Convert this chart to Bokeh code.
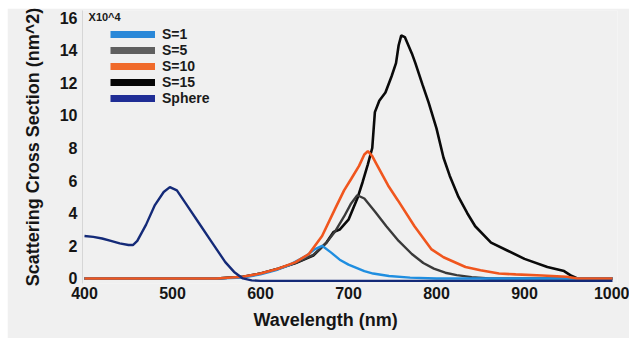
from bokeh.plotting import figure
from bokeh.models import Range1d, FixedTicker, Legend, LegendItem, Label, Title
from bokeh.embed import file_html
from bokeh.resources import INLINE

# ---- data ----
sphere_wl = [400, 410, 420, 430, 440, 450, 455, 460, 470, 480, 490, 497, 505, 515, 530, 545, 560, 570, 580, 590, 600, 650, 700, 800, 900, 1000]
sphere_val = [2.6, 2.55, 2.45, 2.3, 2.15, 2.05, 2.05, 2.3, 3.3, 4.5, 5.3, 5.6, 5.4, 4.6, 3.4, 2.2, 1.0, 0.4, 0.0, -0.12, -0.15, -0.15, -0.15, -0.15, -0.15, -0.15]

s1_wl = [400, 500, 550, 580, 600, 620, 632, 651, 662, 670, 680, 690, 700, 709, 718, 728, 746, 770, 800, 1000]
s1_val = [0, 0, 0, 0.05, 0.25, 0.55, 0.8, 1.35, 1.8, 2.0, 1.6, 1.15, 0.85, 0.65, 0.45, 0.3, 0.15, 0.05, 0, 0]

s5_wl = [400, 550, 580, 600, 620, 640, 660, 675, 685, 695, 703, 710, 718, 730, 743, 757, 772, 785, 797, 810, 823, 840, 860, 1000]
s5_val = [0, 0, 0.1, 0.3, 0.6, 0.95, 1.45, 2.2, 2.9, 3.8, 4.6, 5.1, 4.9, 4.1, 3.2, 2.3, 1.5, 0.95, 0.6, 0.35, 0.2, 0.08, 0, 0]

s10_wl = [400, 550, 580, 600, 620, 640, 655, 670, 685, 695, 703, 712, 718, 722, 727, 732, 745, 756, 775, 794, 808, 833, 850, 871, 890, 920, 948, 960, 1000]
s10_val = [0, 0, 0.1, 0.3, 0.6, 1.0, 1.5, 2.6, 4.3, 5.4, 6.1, 6.9, 7.6, 7.8, 7.5, 7.0, 5.7, 4.8, 3.2, 1.8, 1.3, 0.7, 0.5, 0.3, 0.25, 0.18, 0.1, 0, 0]

s15_wl = [400, 550, 580, 600, 620, 640, 660, 675, 683, 690, 700, 710, 716, 722, 727, 730, 735, 742, 749, 754, 757, 760, 764, 772, 776, 784, 791, 800, 808, 815, 825, 835, 844, 862, 881, 900, 926, 945, 952, 960, 1000]
s15_val = [0, 0, 0.1, 0.3, 0.6, 0.95, 1.4, 2.2, 2.85, 3.0, 3.6, 4.9, 5.9, 7.0, 8.0, 10.2, 10.9, 11.4, 12.4, 13.2, 14.3, 14.9, 14.8, 13.8, 13.2, 11.9, 10.8, 9.2, 7.4, 6.3, 5.0, 4.0, 3.2, 2.2, 1.7, 1.2, 0.7, 0.45, 0.2, 0, 0]

series_names = ["S=1", "S=5", "S=10", "S=15", "Sphere"]
series_colors = ["#1f8ee0", "#3a3a3a", "#f0561e", "#0a0a0a", "#142a78"]
legend_colors = ["#2a88d8", "#5f5f5f", "#f06a2a", "#050505", "#1f2d95"]

x_ticks = [400, 500, 600, 700, 800, 900, 1000]
y_ticks = [0, 2, 4, 6, 8, 10, 12, 14, 16]

FONT = "Liberation Sans"
BG = "#f0f0f0"

p = figure(width=622, height=330, output_backend="svg", toolbar_location=None,
           x_range=Range1d(397.73, 1005.7), y_range=Range1d(-0.31, 16.43),
           min_border_left=75, min_border_right=12, min_border_top=2, min_border_bottom=55)
p.styles = {"margin-left": "7px", "margin-top": "8px"}
p.background_fill_color = BG
p.border_fill_color = BG
p.outline_line_color = None
p.xgrid.grid_line_color = None
p.ygrid.grid_line_color = None

# curves (draw order: black, gray, blue, orange, sphere)
p.line(s15_wl, s15_val, line_color=series_colors[3], line_width=2.6)
p.line(s5_wl, s5_val, line_color=series_colors[1], line_width=2.4)
p.line(s1_wl, s1_val, line_color=series_colors[0], line_width=2.4)
p.line(s10_wl, s10_val, line_color=series_colors[2], line_width=2.6)
p.line(sphere_wl, sphere_val, line_color=series_colors[4], line_width=2.4)

# legend proxies with thick swatches (single point -> nothing drawn in the plot)
first_points = [(s1_wl, s1_val), (s5_wl, s5_val), (s10_wl, s10_val), (s15_wl, s15_val), (sphere_wl, sphere_val)]
items = []
for name, col, (xs, ys) in zip(series_names, legend_colors, first_points):
    r = p.line(x=xs[:1], y=ys[:1], line_color=col, line_width=7)
    items.append(LegendItem(label=name, renderers=[r]))
legend = Legend(items=items, location=(28, 177), padding=0, margin=0, spacing=0,
                glyph_width=45, glyph_height=14, label_height=14, label_standoff=7,
                label_text_font=FONT, label_text_font_size="14px", label_text_font_style="bold",
                label_text_color="#1a1a1a", background_fill_alpha=0, border_line_alpha=0)
p.add_layout(legend)

p.add_layout(Label(x=404.6, y=16.37, text="X10^4", text_font=FONT, text_font_size="11px",
                   text_font_style="bold", text_baseline="top", text_color="#1a1a1a"))

# axes
for ax in (p.xaxis[0], p.yaxis[0]):
    ax.major_label_text_font = FONT
    ax.major_label_text_font_size = "16px"
    ax.major_label_text_font_style = "bold"
    ax.major_label_text_color = "#151515"
    ax.major_tick_line_color = None
    ax.minor_tick_line_color = None
    ax.major_tick_out = 0
    ax.major_tick_in = 0

p.xaxis.ticker = FixedTicker(ticks=x_ticks)
p.xaxis.axis_line_color = None
p.xaxis.major_label_standoff = 3

p.yaxis.ticker = FixedTicker(ticks=y_ticks)
p.yaxis.axis_line_color = "#d6d6d6"
p.yaxis.major_label_standoff = 5
p.yaxis.axis_label = "Scattering Cross Section (nm^2)"
p.yaxis.axis_label_text_font = FONT
p.yaxis.axis_label_text_font_size = "18px"
p.yaxis.axis_label_text_font_style = "bold"
p.yaxis.axis_label_text_color = "#151515"
p.yaxis.axis_label_standoff = 14

p.add_layout(Title(text="Wavelength (nm)", align="left", offset=171, standoff=13,
                   text_font=FONT, text_font_size="18px", text_font_style="bold",
                   text_color="#151515"), "below")

open("out.html", "w").write(file_html(p, INLINE))
